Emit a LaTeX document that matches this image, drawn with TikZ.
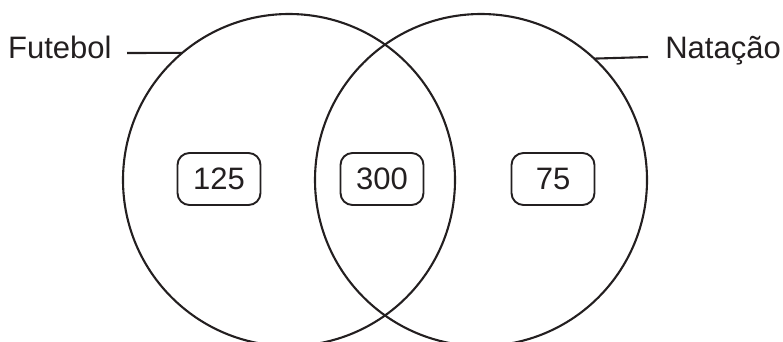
\documentclass[tikz,border=0pt]{standalone}
\usepackage{fontspec}
\setmainfont{Liberation Sans}
\definecolor{ink}{RGB}{35,31,32}
\begin{document}
\begin{tikzpicture}[x=1pt,y=-1pt,
  ring/.style={circle, draw=ink, line width=2.1pt, minimum size=332pt, inner sep=0pt, outer sep=0pt},
  numbox/.style={draw=ink, line width=1.9pt, rounded corners=12pt, minimum width=83pt, minimum height=52pt, inner sep=0pt, text=ink, font=\fontsize{31}{31}\selectfont},
  lbl/.style={inner sep=0pt, text=ink, font=\fontsize{31}{31}\selectfont},
  leader/.style={draw=ink, line width=2.1pt}]
\useasboundingbox (0,0) rectangle (783,341);
\node[ring] (A) at (289,180) {};
\node[ring] (B) at (481,180) {};
\node[lbl, anchor=base west] (fut) at (8,58) {Futebol};
\node[lbl, anchor=base east] (nat) at (781,58) {Natação};
\coordinate (f1) at (127,53);
\coordinate (n1) at (648,57);
\draw[leader] (f1) -- (A.130);
\draw[leader] (n1) -- (B.47.8);
\node[numbox] (c1) at (219,179) {125};
\node[numbox] (c2) at (382,179) {300};
\node[numbox] (c3) at (553,179) {75};
\end{tikzpicture}
\end{document}
